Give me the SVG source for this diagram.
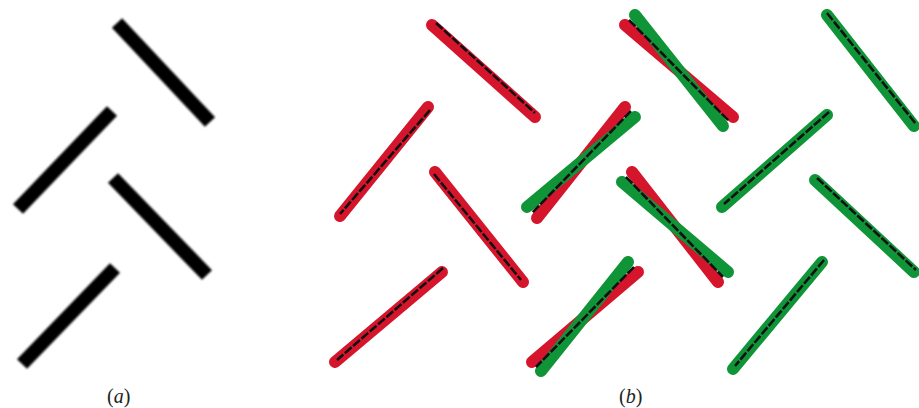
<svg xmlns="http://www.w3.org/2000/svg" width="919" height="408" viewBox="0 0 919 408">
<defs>
<filter id="blur" x="-20%" y="-20%" width="140%" height="140%"><feGaussianBlur stdDeviation="1.3"/></filter>
</defs>
<style>
.a{stroke:#000;stroke-width:14;stroke-linecap:butt;fill:none;filter:url(#blur)}
.r{stroke:#d5152c;stroke-width:12;stroke-linecap:round;fill:none}
.g{stroke:#0f9438;stroke-width:12;stroke-linecap:round;fill:none}
.k{stroke:#111;stroke-width:2.6;stroke-dasharray:9 2;fill:none}
.lbl{font-family:"Liberation Serif",serif;font-size:20px;fill:#222}
</style>
<rect width="919" height="408" fill="#fff"/>
<g id="panel-a">
<line class="a" x1="117" y1="23" x2="210" y2="122"/>
<line class="a" x1="112" y1="111" x2="18" y2="209"/>
<line class="a" x1="113" y1="178" x2="207" y2="275"/>
<line class="a" x1="115" y1="268" x2="22" y2="364"/>
<text class="lbl" x="107" y="403">(<tspan font-style="italic">a</tspan>)</text>
</g>
<g id="panel-b">
<g id="red">
<line class="r" x1="432" y1="25" x2="535" y2="117"/>
<line class="r" x1="428" y1="107" x2="340" y2="216"/>
<line class="r" x1="435" y1="172" x2="523" y2="282"/>
<line class="r" x1="442" y1="272" x2="335" y2="362"/>
<line class="r" x1="625" y1="107" x2="537" y2="218"/>
<line class="r" x1="625" y1="25" x2="733" y2="117"/>
<line class="r" x1="632" y1="172" x2="718" y2="282"/>
<line class="r" x1="638" y1="272" x2="532" y2="362"/>
</g>
<g id="green">
<line class="g" x1="635" y1="117" x2="527" y2="207"/>
<line class="g" x1="635" y1="15" x2="723" y2="126"/>
<line class="g" x1="622" y1="182" x2="728" y2="272"/>
<line class="g" x1="628" y1="262" x2="541" y2="371"/>
<line class="g" x1="827" y1="15" x2="914" y2="126"/>
<line class="g" x1="827" y1="115" x2="722" y2="207"/>
<line class="g" x1="815" y1="180" x2="914" y2="272"/>
<line class="g" x1="822" y1="262" x2="733" y2="369"/>
</g>
<g id="truth">
<line class="k" x1="436" y1="23" x2="535" y2="113"/>
<line class="k" x1="430" y1="110" x2="340" y2="214"/>
<line class="k" x1="434" y1="174" x2="521" y2="280"/>
<line class="k" x1="443" y1="268" x2="337" y2="360"/>
<line class="k" x1="631" y1="111" x2="532" y2="213"/>
<line class="k" x1="629" y1="20" x2="729" y2="121"/>
<line class="k" x1="626" y1="177" x2="723" y2="277"/>
<line class="k" x1="634" y1="267" x2="536" y2="367"/>
<line class="k" x1="827" y1="13" x2="916" y2="124"/>
<line class="k" x1="829" y1="112" x2="724" y2="204"/>
<line class="k" x1="817" y1="178" x2="916" y2="270"/>
<line class="k" x1="824" y1="260" x2="735" y2="366"/>
</g>
<text class="lbl" x="619" y="403">(<tspan font-style="italic">b</tspan>)</text>
</g>
</svg>
